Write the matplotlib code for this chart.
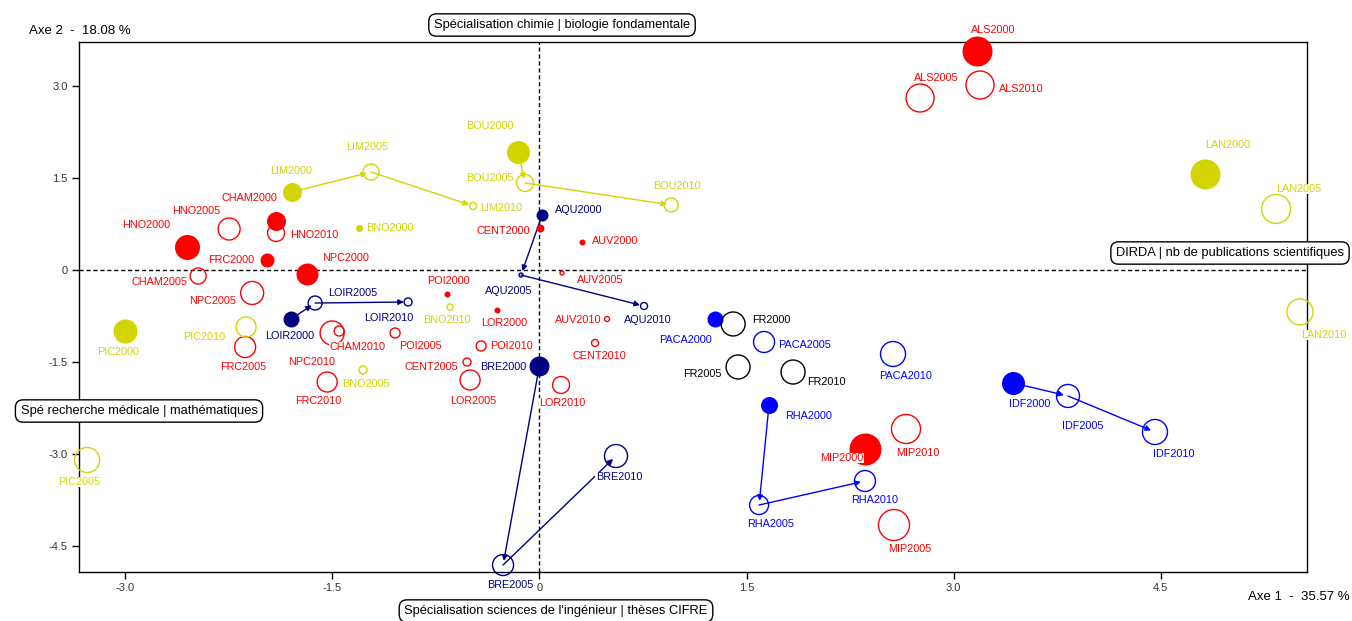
import matplotlib
matplotlib.use("Agg")
import matplotlib.pyplot as plt

plt.rcParams['font.family'] = ['Liberation Sans', 'DejaVu Sans']

# regions and their colour group
regions = ['ALS', 'AQU', 'AUV', 'BNO', 'BOU', 'BRE', 'CENT', 'CHAM', 'FRC', 'HNO', 'IDF',
           'LAN', 'LIM', 'LOIR', 'LOR', 'MIP', 'NPC', 'PACA', 'PIC', 'POI', 'RHA', 'FR']
groups = ['red', 'navy', 'red', 'yellow', 'yellow', 'navy', 'red', 'red', 'red', 'red', 'blue',
          'yellow', 'yellow', 'navy', 'red', 'red', 'red', 'blue', 'yellow', 'red', 'blue', 'black']

# coordinates on axes 1 and 2, per year
x2000 = [3.169, 0.020, 0.309, -1.306, -0.154, 0.000, 0.005, -1.907, -1.972, -2.551, 3.430,
         4.820, -1.791, -1.798, -0.306, 2.358, -1.682, 1.272, -3.000, -0.668, 1.663, 1.403]
y2000 = [3.574, 0.898, 0.457, 0.685, 1.926, -1.567, 0.685, 0.800, 0.163, 0.375, -1.844,
         1.567, 1.273, -0.800, -0.653, -2.921, -0.065, -0.800, -0.996, -0.392, -2.203, -0.881]
x2005 = [2.757, -0.133, 0.164, -1.277, -0.104, -0.263, -0.524, -2.471, -2.131, -2.247, 3.828,
         5.335, -1.219, -1.624, -0.502, 2.568, -2.080, 1.627, -3.275, -1.045, 1.591, 1.439]
y2005 = [2.807, -0.082, -0.049, -1.632, 1.420, -4.815, -1.502, -0.098, -1.257, 0.669, -2.056,
         0.996, 1.599, -0.539, -1.795, -4.162, -0.375, -1.175, -3.101, -1.028, -3.836, -1.583]
x2010 = [3.191, 0.758, 0.490, -0.647, 0.954, 0.555, 0.403, -1.501, -1.537, -1.907, 4.458,
         5.508, -0.480, -0.951, 0.157, 2.655, -1.450, 2.561, -2.124, -0.422, 2.358, 1.837]
y2010 = [3.019, -0.588, -0.800, -0.604, 1.061, -3.036, -1.191, -1.028, -1.828, 0.604, -2.644,
         -0.685, 1.045, -0.522, -1.877, -2.595, -0.996, -1.371, -0.930, -1.240, -3.444, -1.665]

# point weights (drawn radius, px)
w2000 = [15, 6, 3, 3.5, 11.5, 10, 4, 9.5, 7, 12.5, 11.5, 15, 9.5, 8, 3, 16, 11, 8, 12, 3, 8.5, 12]
w2005 = [14, 2, 2, 4, 8.5, 10.5, 4, 8, 10.5, 11, 11.5, 14.5, 8, 7, 10, 15.5, 11.5, 10.5, 12.5, 5, 9.5, 12]
w2010 = [14, 3.5, 2.5, 3, 7, 11.5, 3.5, 12, 10, 8.5, 12.5, 13, 3.5, 4, 8.5, 14.5, 5, 12.5, 10, 5, 10.5, 12]

# trajectories drawn with arrows
traj = ['LIM', 'BOU', 'AQU', 'LOIR', 'BRE', 'RHA', 'IDF']
# national reference, never filled
supp = ['FR']

axis_labels = ['Axe 1  -  35.57 %', 'Axe 2  -  18.08 %']
quad_labels = ['Spécialisation chimie | biologie fondamentale',
               'DIRDA | nb de publications scientifiques',
               'Spé recherche médicale | mathématiques',
               "Spécialisation sciences de l'ingénieur | thèses CIFRE"]

colors = {'red': '#FF0000', 'yellow': '#D4D400', 'navy': '#000080', 'blue': '#0000FF', 'black': '#000000'}

# label offsets in pixels (dx right, dy down)
lab_off = {
    'ALS2000': (16, -21), 'ALS2005': (16, -20), 'ALS2010': (41, 4),
    'LAN2000': (23, -29), 'LAN2005': (23, -20), 'LAN2010': (24, 23),
    'LIM2000': (-1, -21), 'LIM2005': (-4, -25), 'LIM2010': (28, 2),
    'BOU2000': (-28, -26), 'BOU2005': (-35, -5), 'BOU2010': (6, -19),
    'AQU2000': (37, -5), 'AQU2005': (-12, 16), 'AQU2010': (4, 14),
    'CENT2000': (-37, 3), 'CENT2005': (-36, 5), 'CENT2010': (4, 13),
    'AUV2000': (33, -1), 'AUV2005': (38, 7), 'AUV2010': (-29, 1),
    'POI2000': (1, -13), 'POI2005': (25, 13), 'POI2010': (30, 0),
    'BNO2000': (31, 0), 'BNO2005': (3, 14), 'BNO2010': (-3, 13),
    'LOR2000': (7, 13), 'LOR2005': (3, 21), 'LOR2010': (1, 18),
    'BRE2000': (-36, 1), 'BRE2005': (7, 20), 'BRE2010': (3, 21),
    'HNO2000': (-41, -22), 'HNO2005': (-33, -18), 'HNO2010': (38, 2),
    'CHAM2000': (-27, -23), 'CHAM2005': (-39, 6), 'CHAM2010': (25, 14),
    'FRC2000': (-36, 0), 'FRC2005': (-2, 20), 'FRC2010': (-9, 19),
    'NPC2000': (38, -16), 'NPC2005': (-40, 8), 'NPC2010': (-28, 31),
    'LOIR2000': (-1, 17), 'LOIR2005': (38, -10), 'LOIR2010': (-19, 16),
    'PIC2000': (-7, 21), 'PIC2005': (-8, 22), 'PIC2010': (-42, 10),
    'PACA2000': (-30, 21), 'PACA2005': (41, 3), 'PACA2010': (13, 22),
    'FR2000': (38, -4), 'FR2005': (-36, 7), 'FR2010': (33, 10),
    'RHA2000': (40, 11), 'RHA2005': (12, 19), 'RHA2010': (10, 19),
    'MIP2000': (-23, 9), 'MIP2005': (16, 24), 'MIP2010': (12, 24),
    'IDF2000': (17, 21), 'IDF2005': (15, 30), 'IDF2010': (19, 22),
}

W, H = 1352, 621
fig = plt.figure(figsize=(W / 100, H / 100), dpi=100)
ax = fig.add_axes([79 / W, 1 - 572 / H, (1307 - 79) / W, (572 - 42) / H])
ax.set_xlim(-3.334, 5.559)
ax.set_ylim(-4.929, 3.721)

ax.axhline(0, color='black', lw=1, ls=(0, (3, 2)), zorder=1)
ax.axvline(0, color='black', lw=1, ls=(0, (3, 2)), zorder=1)

years = [('2000', x2000, y2000, w2000), ('2005', x2005, y2005, w2005), ('2010', x2010, y2010, w2010)]

# arrows 2000 -> 2005 -> 2010
for i, reg in enumerate(regions):
    if reg not in traj:
        continue
    c = colors[groups[i]]
    pts = [(x2000[i], y2000[i]), (x2005[i], y2005[i]), (x2010[i], y2010[i])]
    for a, b in zip(pts[:-1], pts[1:]):
        ax.annotate('', xy=b, xytext=a,
                    arrowprops=dict(arrowstyle='-|>', color=c, lw=1, mutation_scale=8,
                                    shrinkA=0, shrinkB=3), zorder=2)

for yr, xs, ys, ws in years:
    for i, reg in enumerate(regions):
        c = colors[groups[i]]
        s = (1.44 * ws[i]) ** 2
        if yr == '2000' and reg not in supp:
            ax.scatter(xs[i], ys[i], s=s, color=c, lw=0, zorder=3, clip_on=False)
        else:
            ax.scatter(xs[i], ys[i], s=s, facecolors='none', edgecolors=c, lw=1, zorder=3, clip_on=False)

for yr, xs, ys, ws in years:
    for i, reg in enumerate(regions):
        name = reg + yr
        dx, dy = lab_off[name]
        ax.annotate(name, (xs[i], ys[i]), xytext=(dx * 0.72, -dy * 0.72), textcoords='offset points',
                    ha='center', va='center', fontsize=7.8, color=colors[groups[i]],
                    bbox=dict(facecolor='white', edgecolor='none', pad=0.3),
                    zorder=4, annotation_clip=False)

ax.set_xticks([-3, -1.5, 0, 1.5, 3, 4.5])
ax.set_xticklabels(['-3.0', '-1.5', '0', '1.5', '3.0', '4.5'])
ax.set_yticks([-4.5, -3, -1.5, 0, 1.5, 3])
ax.set_yticklabels(['-4.5', '-3.0', '-1.5', '0', '1.5', '3.0'])
ax.tick_params(direction='out', length=5, width=1, labelsize=8, labelcolor='#333333', pad=3)
for sp in ax.spines.values():
    sp.set_linewidth(1)

fig.text(29 / W, 1 - 31 / H, axis_labels[1], fontsize=9.5, ha='left', va='center')
fig.text(1350 / W, 1 - 597 / H, axis_labels[0], fontsize=9.5, ha='right', va='center')

box = dict(boxstyle='round,pad=0.4,rounding_size=0.6', facecolor='white', edgecolor='black', lw=1)
fig.text(562 / W, 1 - 25 / H, quad_labels[0], fontsize=9.3, ha='center', va='center', bbox=box)
fig.text(1116 / W, 1 - 253 / H, quad_labels[1], fontsize=9.3, ha='left', va='center', bbox=box)
fig.text(139 / W, 1 - 411 / H, quad_labels[2], fontsize=9.3, ha='center', va='center', bbox=box)
fig.text(556 / W, 1 - 611 / H, quad_labels[3], fontsize=9.3, ha='center', va='center', bbox=box)

fig.savefig('out.png', dpi=100)
